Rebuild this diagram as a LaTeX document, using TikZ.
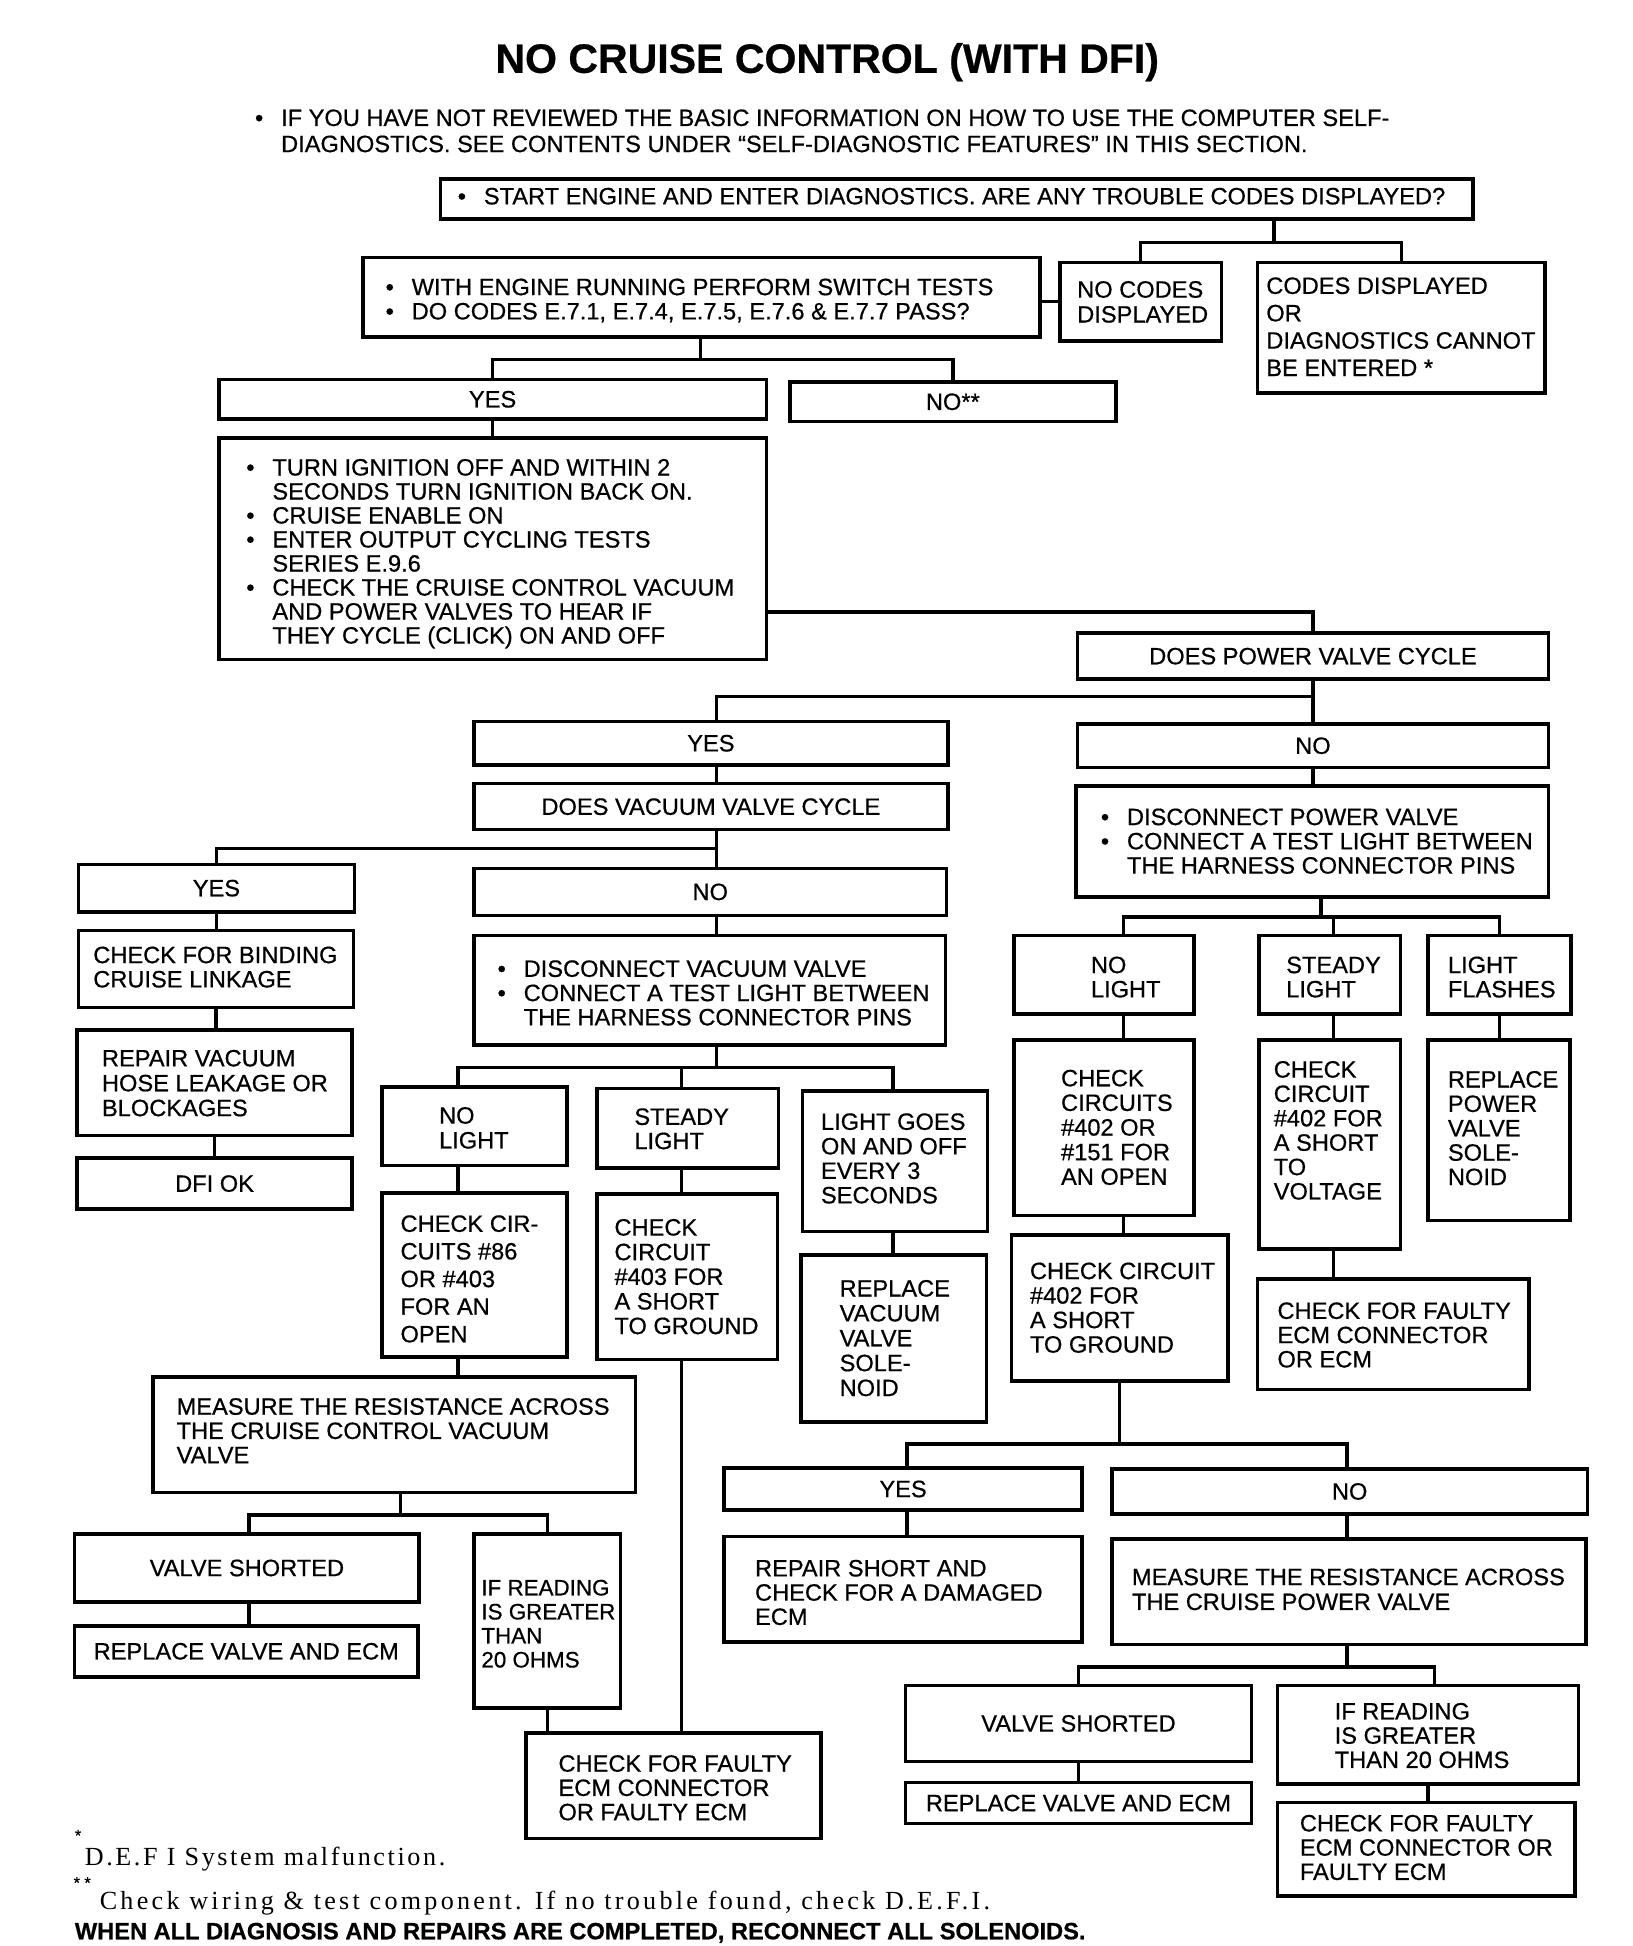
\documentclass[tikz,border=0pt]{standalone}
\usepackage{fontspec}
\setmainfont[FakeBold=0.6]{Liberation Sans}
\newfontfamily\serifft[LetterSpace=10]{Liberation Serif}
\newfontfamily\seriffw[LetterSpace=12.5]{Liberation Serif}
\usetikzlibrary{calc}
\def\yu{1}
\tikzset{
  box/.style={draw, line width=2.8pt, inner sep=0pt, outer sep=0pt, font=\fontsize{19}{19.5}\selectfont},
  txt/.style={inner sep=0pt, outer sep=0pt, align=left, anchor=north west, font=\fontsize{19}{19.5}\selectfont},
  ln/.style={line width=2.8pt},
  foot/.style={inner sep=0pt, anchor=base west, font=\serifft\fontsize{21}{22}\selectfont},
  starmark/.style={inner sep=0pt, anchor=base west, font=\fontsize{13}{13}\selectfont},
}
\newcommand\bl{\makebox[21pt][l]{\textbullet}}
\newcommand\ind{\hspace*{21pt}}
\newcommand\bx[6]{\node[box,minimum width={(#4-#2)*1pt},minimum height={(#5-#3)*\yu pt}] (#1) at ({(#2+#4)/2},{(#3+#5)/2}) {#6};}
\newcommand\tx[5][]{\node[txt,#1] (#2) at (#3,{#4-7}) {#5};}
\begin{document}
\begin{tikzpicture}[x=1pt,y=-1pt]
\useasboundingbox (0,0) rectangle (1312,1564.4);
% title and intro
\node[font=\fontsize{33}{36}\selectfont\bfseries] (title) at (665,50) {NO CRUISE CONTROL (WITH DFI)};
\tx[font=\fontsize{19}{21}\selectfont]{intro}{205}{95}{\bl IF YOU HAVE NOT REVIEWED THE BASIC INFORMATION ON HOW TO USE THE COMPUTER SELF-\\\ind DIAGNOSTICS. SEE CONTENTS UNDER “SELF-DIAGNOSTIC FEATURES” IN THIS SECTION.}
% boxes
\bx{start}{354}{144}{1184}{176}{}
\tx{tstart}{368}{158}{\bl START ENGINE AND ENTER DIAGNOSTICS. ARE ANY TROUBLE CODES DISPLAYED?}
\bx{sw}{292}{207}{836}{271}{}
\tx{tsw}{310}{231}{\bl WITH ENGINE RUNNING PERFORM SWITCH TESTS\\\bl DO CODES E.7.1, E.7.4, E.7.5, E.7.6 \& E.7.7 PASS?}
\bx{nocodes}{852}{211}{982}{274}{}
\tx[font=\fontsize{19}{20}\selectfont]{tnocodes}{866}{233}{NO CODES\\DISPLAYED}
\bx{codes}{1011}{211}{1242}{316}{}
\tx[font=\fontsize{19}{22}\selectfont]{tcodes}{1018}{230}{CODES DISPLAYED\\OR\\DIAGNOSTICS CANNOT\\BE ENTERED *}
\bx{yes1}{176}{305}{616}{337}{YES}
\bx{no1}{635}{307}{897}{339}{NO**}
\bx{turn}{176}{352}{616}{530}{}
\tx[font=\fontsize{19}{19.3}\selectfont]{tturn}{198}{376}{\bl TURN IGNITION OFF AND WITHIN 2\\\ind SECONDS TURN IGNITION BACK ON.\\\bl CRUISE ENABLE ON\\\bl ENTER OUTPUT CYCLING TESTS\\\ind SERIES E.9.6\\\bl CHECK THE CRUISE CONTROL VACUUM\\\ind AND POWER VALVES TO HEAR IF\\\ind THEY CYCLE (CLICK) ON AND OFF}
\bx{dpv}{866}{509}{1245}{546}{DOES POWER VALVE CYCLE}
\bx{yes2}{381}{580}{762}{615}{YES}
\bx{no2}{866}{582}{1245}{617}{NO}
\bx{dvv}{381}{630}{762}{667}{DOES VACUUM VALVE CYCLE}
\bx{yes3}{63}{695}{285}{733}{YES}
\bx{no3}{381}{698}{761}{736}{NO}
\bx{bind}{63}{748}{284}{810}{}
\tx{tbind}{75}{768}{CHECK FOR BINDING\\CRUISE LINKAGE}
\bx{hose}{62}{828}{283}{913}{}
\tx[font=\fontsize{19}{20}\selectfont]{those}{82}{851}{REPAIR VACUUM\\HOSE LEAKAGE OR\\BLOCKAGES}
\bx{dfiok}{62}{931}{283}{972}{DFI OK}
\bx{dvac}{381}{752}{760}{840}{}
\tx{tdvac}{400}{779}{\bl DISCONNECT VACUUM VALVE\\\bl CONNECT A TEST LIGHT BETWEEN\\\ind THE HARNESS CONNECTOR PINS}
\bx{nl1}{307}{874}{456}{937}{}
\tx[font=\fontsize{19}{20}\selectfont]{tnl1}{353}{897}{NO\\LIGHT}
\bx{sl1}{480}{875}{626}{939}{}
\tx{tsl1}{510}{898}{STEADY\\LIGHT}
\bx{lgo}{645}{877}{794}{990}{}
\tx[font=\fontsize{19}{19.7}\selectfont]{tlgo}{660}{902}{LIGHT GOES\\ON AND OFF\\EVERY 3\\SECONDS}
\bx{cc86}{307}{959}{456}{1091}{}
\tx[font=\fontsize{19}{22.2}\selectfont]{tcc86}{322}{984}{CHECK CIR-\\CUITS \#86\\OR \#403\\FOR AN\\OPEN}
\bx{cc403}{480}{960}{625}{1093}{}
\tx[font=\fontsize{19}{19.8}\selectfont]{tcc403}{494}{987}{CHECK\\CIRCUIT\\\#403 FOR\\A SHORT\\TO GROUND}
\bx{rvac}{644}{1009}{793}{1143}{}
\tx[font=\fontsize{19}{20}\selectfont]{trvac}{675}{1036}{REPLACE\\VACUUM\\VALVE\\SOLE-\\NOID}
\bx{meas1}{123}{1107}{511}{1200}{}
\tx{tmeas1}{142}{1131}{MEASURE THE RESISTANCE ACROSS\\THE CRUISE CONTROL VACUUM\\VALVE}
\bx{vs1}{60}{1233}{337}{1288}{VALVE SHORTED}
\bx{ifr1}{381}{1233}{499}{1373}{}
\tx[font=\fontsize{18}{19.3}\selectfont]{tifr1}{387}{1277}{IF READING\\IS GREATER\\THAN\\20 OHMS}
\bx{rve1}{60}{1307}{336}{1348}{REPLACE VALVE AND ECM}
\bx{cfe1}{423}{1393}{660}{1478}{}
\tx{tcfe1}{449}{1418}{CHECK FOR FAULTY\\ECM CONNECTOR\\OR FAULTY ECM}
\bx{dpow}{865}{632}{1245}{721}{}
\tx{tdpow}{885}{657}{\bl DISCONNECT POWER VALVE\\\bl CONNECT A TEST LIGHT BETWEEN\\\ind THE HARNESS CONNECTOR PINS}
\bx{nl2}{815}{752}{960}{815}{}
\tx{tnl2}{877}{776}{NO\\LIGHT}
\bx{sl2}{1012}{752}{1126}{815}{}
\tx{tsl2}{1034}{776}{STEADY\\LIGHT}
\bx{lf2}{1148}{752}{1263}{815}{}
\tx{tlf2}{1164}{776}{LIGHT\\FLASHES}
\bx{cc151}{815}{836}{960}{977}{}
\tx[font=\fontsize{19}{19.8}\selectfont]{tcc151}{853}{867}{CHECK\\CIRCUITS\\\#402 OR\\\#151 FOR\\AN OPEN}
\bx{ccv}{1012}{836}{1126}{1004}{}
\tx[font=\fontsize{19}{19.6}\selectfont]{tccv}{1024}{860}{CHECK\\CIRCUIT\\\#402 FOR\\A SHORT\\TO\\VOLTAGE}
\bx{rpow}{1148}{836}{1262}{981}{}
\tx[font=\fontsize{19}{19.6}\selectfont]{trpow}{1164}{868}{REPLACE\\POWER\\VALVE\\SOLE-\\NOID}
\bx{ccg}{813}{993}{987}{1110}{}
\tx[font=\fontsize{19}{19.7}\selectfont]{tccg}{828}{1022}{CHECK CIRCUIT\\\#402 FOR\\A SHORT\\TO GROUND}
\bx{cfe2}{1011}{1028}{1229}{1117}{}
\tx{tcfe2}{1027}{1054}{CHECK FOR FAULTY\\ECM CONNECTOR\\OR ECM}
\bx{yes4}{582}{1180}{870}{1214}{YES}
\bx{no4}{894}{1181}{1276}{1217}{NO}
\bx{rsh}{582}{1235}{870}{1320}{}
\tx{trsh}{607}{1261}{REPAIR SHORT AND\\CHECK FOR A DAMAGED\\ECM}
\bx{meas2}{894}{1237}{1275}{1322}{}
\tx[font=\fontsize{19}{20}\selectfont]{tmeas2}{910}{1268}{MEASURE THE RESISTANCE ACROSS\\THE CRUISE POWER VALVE}
\bx{vs2}{728}{1355}{1006}{1416}{VALVE SHORTED}
\bx{ifr2}{1027}{1355}{1269}{1434}{}
\tx{tifr2}{1073}{1376}{IF READING\\IS GREATER\\THAN 20 OHMS}
\bx{rve2}{728}{1433}{1006}{1466}{REPLACE VALVE AND ECM}
\bx{cfe3}{1027}{1449}{1266}{1524}{}
\tx{tcfe3}{1045}{1466}{CHECK FOR FAULTY\\ECM CONNECTOR OR\\FAULTY ECM}
% helper coordinates
\coordinate (J1) at (1024,195);
\coordinate (J2) at (563,289);
\coordinate (Y492) at (0,492);
\coordinate (J4) at (1056,560);
\coordinate (X576) at (576,0);
\coordinate (J5) at (576,682);
\coordinate (J6) at (576,858);
\coordinate (X368) at (368,0);
\coordinate (X548) at (548,0);
\coordinate (X718) at (718,0);
\coordinate (J7) at (322,1218);
\coordinate (X200) at (200,0);
\coordinate (J8) at (1062,737);
\coordinate (X903) at (903,0);
\coordinate (X1072) at (1072,0);
\coordinate (J9) at (900,1161);
\coordinate (X729) at (729,0);
\coordinate (X1083) at (1083,0);
\coordinate (J10) at (1083,1340);
\coordinate (X1153) at (1153,0);
\coordinate (X1148) at (1148,0);
% connectors
\draw[ln] (start.south -| J1) -- (J1);
\draw[ln] (nocodes.north) |- (J1);
\draw[ln] (codes.north) |- (J1);
\draw[ln] (nocodes.west) -- (nocodes.west -| sw.east);
\draw[ln] (sw.south -| J2) -- (J2);
\draw[ln] (yes1.north) |- (J2);
\draw[ln] (no1.north) |- (J2);
\draw[ln] (yes1.south) -- (yes1.south |- turn.north);
\draw[ln] (turn.east |- Y492) -| (dpv.north);
\draw[ln] (dpv.south) -- (dpv.south |- no2.north);
\draw[ln] (yes2.north -| X576) |- (J4);
\draw[ln] (yes2.south -| X576) -- (dvv.north -| X576);
\draw[ln] (dvv.south -| X576) -- (no3.north -| X576);
\draw[ln] (yes3.north) |- (J5);
\draw[ln] (yes3.south) -- (yes3.south |- bind.north);
\draw[ln] (bind.south) -- (bind.south |- hose.north);
\draw[ln] (hose.south) -- (hose.south |- dfiok.north);
\draw[ln] (no3.south -| X576) -- (dvac.north -| X576);
\draw[ln] (dvac.south -| J6) -- (J6);
\draw[ln] (nl1.north -| X368) |- (J6);
\draw[ln] (sl1.north -| X548) -- (J6 -| X548);
\draw[ln] (lgo.north -| X718) |- (J6);
\draw[ln] (nl1.south -| X368) -- (cc86.north -| X368);
\draw[ln] (cc86.south -| X368) -- (meas1.north -| X368);
\draw[ln] (sl1.south -| X548) -- (cc403.north -| X548);
\draw[ln] (lgo.south -| X718) -- (rvac.north -| X718);
\draw[ln] (meas1.south -| J7) -- (J7);
\draw[ln] (vs1.north -| X200) |- (J7);
\draw[ln] (ifr1.north) |- (J7);
\draw[ln] (vs1.south -| X200) -- (rve1.north -| X200);
\draw[ln] (ifr1.south) -- (ifr1.south |- cfe1.north);
\draw[ln] (cc403.south -| X548) -- (cfe1.north -| X548);
\draw[ln] (no2.south) -- (no2.south |- dpow.north);
\draw[ln] (dpow.south -| J8) -- (J8);
\draw[ln] (nl2.north -| X903) |- (J8);
\draw[ln] (sl2.north -| X1072) -- (J8 -| X1072);
\draw[ln] (lf2.north) |- (J8);
\draw[ln] (nl2.south -| X903) -- (cc151.north -| X903);
\draw[ln] (cc151.south -| X903) -- (ccg.north -| X903);
\draw[ln] (sl2.south -| X1072) -- (ccv.north -| X1072);
\draw[ln] (ccv.south -| X1072) -- (cfe2.north -| X1072);
\draw[ln] (lf2.south) -- (lf2.south |- rpow.north);
\draw[ln] (ccg.south -| J9) -- (J9);
\draw[ln] (yes4.north -| X729) |- (J9);
\draw[ln] (no4.north -| X1083) |- (J9);
\draw[ln] (yes4.south -| X729) -- (rsh.north -| X729);
\draw[ln] (no4.south -| X1083) -- (meas2.north -| X1083);
\draw[ln] (meas2.south -| J10) -- (J10);
\draw[ln] (vs2.north) |- (J10);
\draw[ln] (ifr2.north -| X1153) |- (J10);
\draw[ln] (vs2.south) -- (vs2.south |- rve2.north);
\draw[ln] (ifr2.south -| X1148) -- (cfe3.north -| X1148);
% footnotes
\node[starmark] (m1) at (60,1480) {*};
\node[foot] (fn1) at (68,1500) {D.E.F I System malfunction.};
\node[starmark] (m2) at (59,1518) {* *};
\node[foot, font=\seriffw\fontsize{21}{22}\selectfont] (fn2) at (80,1535) {Check wiring \& test component. If no trouble found, check D.E.F.I.};
\node[inner sep=0pt, anchor=base west, font=\fontsize{19}{20}\selectfont\bfseries] (fn3) at (60,1559) {WHEN ALL DIAGNOSIS AND REPAIRS ARE COMPLETED, RECONNECT ALL SOLENOIDS.};
\end{tikzpicture}
\end{document}
